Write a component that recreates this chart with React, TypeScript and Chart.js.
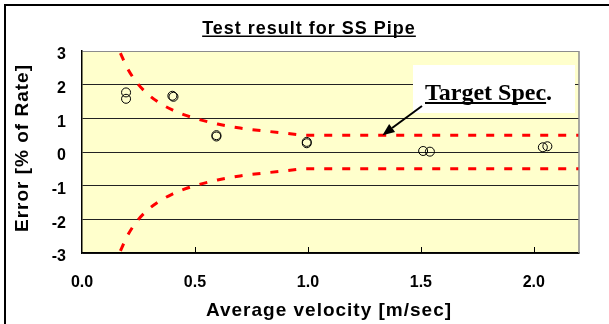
import React, { useEffect, useRef } from "react";
import { Chart, registerables } from "chart.js";

Chart.register(...registerables);

const titleText = "Test result for SS Pipe";
const xAxisTitle = "Average velocity [m/sec]";
const yAxisTitle = "Error [% of Rate]";
const annotationText = "Target Spec";

const measuredVelocity = [0.195, 0.195, 0.4, 0.405, 0.595, 0.595, 0.995, 0.995, 1.51, 1.54, 2.04, 2.06];
const measuredError = [1.77, 1.58, 1.67, 1.64, 0.5, 0.46, 0.3, 0.26, 0.03, 0.01, 0.14, 0.17];

const specVelocity = [0.17, 0.2, 0.25, 0.3, 0.35, 0.4, 0.45, 0.5, 0.6, 0.7, 0.8, 0.9, 1.0, 1.2, 1.5, 1.8, 2.2];
const specUpper = [2.94, 2.5, 2.0, 1.67, 1.43, 1.25, 1.11, 1.0, 0.83, 0.71, 0.63, 0.56, 0.5, 0.5, 0.5, 0.5, 0.5];
const specLower = [-2.94, -2.5, -2.0, -1.67, -1.43, -1.25, -1.11, -1.0, -0.83, -0.71, -0.63, -0.56, -0.5, -0.5, -0.5, -0.5, -0.5];

const xTicks = [0, 0.5, 1.0, 1.5, 2.0];

const SANS = "'Liberation Sans', Arial, sans-serif";
const SERIF = "'Liberation Serif', 'Times New Roman', serif";

const decorPlugin = {
  id: "decor",
  beforeDraw(chart: any) {
    const { ctx, chartArea } = chart;
    ctx.save();
    ctx.fillStyle = "#ffffff";
    ctx.fillRect(0, 0, chart.width, chart.height);
    ctx.fillStyle = "#FFFFCC";
    ctx.fillRect(chartArea.left, chartArea.top, chartArea.right - chartArea.left, chartArea.bottom - chartArea.top);
    ctx.restore();
  },
  afterDatasetsDraw(chart: any) {
    const { ctx, chartArea, scales } = chart;
    ctx.save();
    ctx.strokeStyle = "#8c8c8c";
    ctx.lineWidth = 1.5;
    ctx.beginPath();
    ctx.moveTo(chartArea.right, chartArea.top);
    ctx.lineTo(chartArea.right, chartArea.bottom);
    ctx.stroke();
    ctx.strokeStyle = "#000";
    ctx.lineWidth = 1;
    xTicks.slice(1).forEach((v) => {
      const x = Math.round(scales.x.getPixelForValue(v)) + 0.5;
      ctx.beginPath();
      ctx.moveTo(x, chartArea.bottom);
      ctx.lineTo(x, chartArea.bottom - 6);
      ctx.stroke();
    });
    ctx.fillStyle = "#ffffff";
    ctx.fillRect(413, 65, 162, 48);
    ctx.fillStyle = "#000";
    ctx.font = `bold 24px ${SERIF}`;
    ctx.textAlign = "left";
    ctx.textBaseline = "alphabetic";
    ctx.fillText(annotationText, 425, 100);
    const w = ctx.measureText(annotationText).width;
    ctx.fillText(".", 425 + w, 100);
    ctx.fillRect(425, 102, w, 2);
    const x1 = 422, y1 = 106;
    const tx = scales.x.getPixelForValue(1.33);
    const ty = scales.y.getPixelForValue(0.5);
    ctx.strokeStyle = "#000";
    ctx.lineWidth = 2;
    const ang = Math.atan2(ty - y1, tx - x1);
    const hl = 12;
    const bx = tx - hl * Math.cos(ang);
    const by = ty - hl * Math.sin(ang);
    ctx.beginPath();
    ctx.moveTo(x1, y1);
    ctx.lineTo(bx, by);
    ctx.stroke();
    ctx.beginPath();
    ctx.moveTo(tx, ty);
    ctx.lineTo(bx + 5 * Math.sin(ang), by - 5 * Math.cos(ang));
    ctx.lineTo(bx - 5 * Math.sin(ang), by + 5 * Math.cos(ang));
    ctx.closePath();
    ctx.fill();
    ctx.restore();
  },
  afterDraw(chart: any) {
    const { ctx } = chart;
    ctx.save();
    ctx.fillStyle = "#000";
    ctx.fillRect(4, 4, chart.width - 4, 2);
    ctx.fillRect(4, 4, 2, chart.height - 4);
    ctx.font = `bold 18px ${SANS}`;
    (ctx as any).letterSpacing = "1px";
    ctx.textAlign = "center";
    ctx.textBaseline = "alphabetic";
    const cx = 309;
    ctx.fillText(titleText, cx, 34);
    const tw = ctx.measureText(titleText).width;
    ctx.fillRect(cx - tw / 2, 35.5, tw, 1.5);
    ctx.font = `bold 19px ${SANS}`;
    ctx.textBaseline = "middle";
    ctx.fillText(xAxisTitle, 329, 311);
    ctx.translate(23, 148);
    ctx.rotate(-Math.PI / 2);
    ctx.fillText(yAxisTitle, 0, 0);
    ctx.restore();
  },
};

export default function App() {
  const ref = useRef<HTMLCanvasElement>(null);
  useEffect(() => {
    document.body.style.margin = "0";
    const ctx = ref.current!.getContext("2d")!;
    const points = measuredVelocity.map((v, i) => ({ x: v, y: measuredError[i] }));
    const upper = specVelocity.map((v, i) => ({ x: v, y: specUpper[i] }));
    const lower = specVelocity.map((v, i) => ({ x: v, y: specLower[i] }));
    const chart = new Chart(ctx, {
      type: "scatter",
      data: {
        datasets: [
          {
            label: "Measured",
            data: points,
            showLine: false,
            pointStyle: "circle",
            pointRadius: 4.5,
            pointBorderColor: "#000",
            pointBorderWidth: 1,
            pointBackgroundColor: "rgba(0,0,0,0)",
            order: 0,
          },
          {
            label: "Upper spec",
            data: upper,
            showLine: true,
            pointRadius: 0,
            borderColor: "#ff0000",
            borderWidth: 3,
            borderDash: [8, 10],
            cubicInterpolationMode: "monotone",
            order: 1,
          },
          {
            label: "Lower spec",
            data: lower,
            showLine: true,
            pointRadius: 0,
            borderColor: "#ff0000",
            borderWidth: 3,
            borderDash: [8, 10],
            cubicInterpolationMode: "monotone",
            order: 1,
          },
        ],
      } as any,
      options: {
        responsive: false,
        animation: false,
        layout: { padding: { left: 0, right: 30, top: 51, bottom: 0 } },
        plugins: { legend: { display: false }, tooltip: { enabled: false }, title: { display: false } },
        scales: {
          x: {
            type: "linear",
            min: 0,
            max: 2.2,
            afterFit: (s: any) => { s.height = 71; },
            afterBuildTicks: (s: any) => { s.ticks = xTicks.map((v) => ({ value: v })); },
            ticks: {
              callback: (v: any) => Number(v).toFixed(1),
              font: { family: SANS, size: 16, weight: "bold" },
              color: "#000",
              padding: 12,
              maxRotation: 0,
            },
            grid: { display: false },
            border: { display: true, color: "#000", width: 1.5 },
          },
          y: {
            min: -3,
            max: 3,
            afterFit: (s: any) => { s.width = 82; },
            ticks: {
              stepSize: 1,
              font: { family: SANS, size: 16, weight: "bold" },
              color: "#000",
              padding: 16,
              labelOffset: 4,
            },
            grid: {
              drawTicks: false,
              color: (c: any) => (c.tick && c.tick.value === 3 ? "#8c8c8c" : "#222"),
              lineWidth: 1,
            },
            border: { display: true, color: "#000", width: 1.5 },
          },
        },
      } as any,
      plugins: [decorPlugin],
    });
    return () => chart.destroy();
  }, []);
  return (
    <div style={{ position: "fixed", left: 0, top: 0, width: 609, height: 324 }}>
      <canvas ref={ref} width={609} height={324} style={{ display: "block" }} />
    </div>
  );
}
